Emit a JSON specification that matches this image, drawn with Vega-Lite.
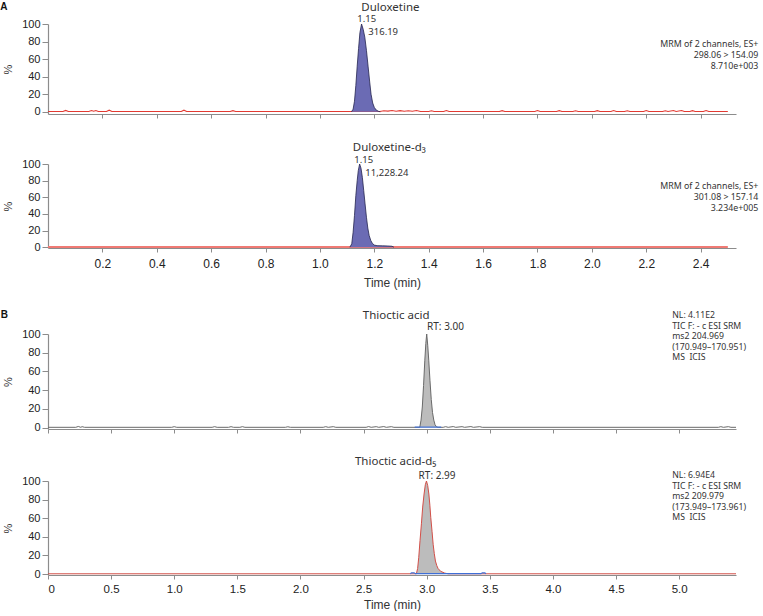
{
  "$schema": "https://vega.github.io/schema/vega-lite/v6.json",
  "padding": {"left": 0, "top": 1, "right": 0, "bottom": 0},
  "spacing": 22,
  "background": "white",
  "datasets": {
    "a1t": [
      {"t":0,"v":0.3},{"t":0.055,"v":0.3},{"t":0.065,"v":1.6},{"t":0.075,"v":0.3},{"t":0.15,"v":0.3},{"t":0.16,"v":1.4},{"t":0.168,"v":0.6},{"t":0.176,"v":1.4},{"t":0.185,"v":0.3},{"t":0.215,"v":0.3},{"t":0.225,"v":1.8},{"t":0.235,"v":0.3},{"t":0.49,"v":0.3},{"t":0.5,"v":1.8},{"t":0.51,"v":0.3},{"t":0.67,"v":0.3},{"t":0.68,"v":1.3},{"t":0.69,"v":0.3},{"t":1.22,"v":0.3},{"t":1.235,"v":1.2},{"t":1.25,"v":0.8},{"t":1.265,"v":1.4},{"t":1.28,"v":0.7},{"t":1.295,"v":1.3},{"t":1.31,"v":0.6},{"t":1.325,"v":1.2},{"t":1.34,"v":0.6},{"t":1.355,"v":1.4},{"t":1.37,"v":0.4},{"t":1.4,"v":0.3},{"t":1.41,"v":1.2},{"t":1.42,"v":0.3},{"t":1.455,"v":0.3},{"t":1.465,"v":1.4},{"t":1.475,"v":0.3},{"t":1.66,"v":0.3},{"t":1.67,"v":1.3},{"t":1.68,"v":0.3},{"t":1.79,"v":0.3},{"t":1.8,"v":1.5},{"t":1.81,"v":0.3},{"t":1.87,"v":0.3},{"t":1.88,"v":1.3},{"t":1.89,"v":0.3},{"t":1.93,"v":0.3},{"t":1.94,"v":1.2},{"t":1.95,"v":0.3},{"t":2.01,"v":0.3},{"t":2.02,"v":1.3},{"t":2.03,"v":0.3},{"t":2.07,"v":0.3},{"t":2.08,"v":1.4},{"t":2.09,"v":0.3},{"t":2.12,"v":0.3},{"t":2.13,"v":1.2},{"t":2.14,"v":0.3},{"t":2.19,"v":0.3},{"t":2.2,"v":1.5},{"t":2.21,"v":0.3},{"t":2.26,"v":0.3},{"t":2.27,"v":1.2},{"t":2.28,"v":0.3},{"t":2.3,"v":1.4},{"t":2.31,"v":0.3},{"t":2.33,"v":1.5},{"t":2.34,"v":0.3},{"t":2.36,"v":0.3},{"t":2.37,"v":1.3},{"t":2.38,"v":0.3},{"t":2.41,"v":0.3},{"t":2.42,"v":1.5},{"t":2.43,"v":0.3},{"t":2.5,"v":0.3}
    ],
    "a1p": [
      {"t":1.116,"v":0},{"t":1.122,"v":3},{"t":1.127,"v":12},{"t":1.132,"v":30},{"t":1.137,"v":52},{"t":1.142,"v":72},{"t":1.147,"v":90},{"t":1.153,"v":100},{"t":1.159,"v":94},{"t":1.165,"v":85},{"t":1.171,"v":70},{"t":1.177,"v":52},{"t":1.183,"v":34},{"t":1.188,"v":20},{"t":1.194,"v":10},{"t":1.2,"v":5},{"t":1.207,"v":2},{"t":1.215,"v":0.6},{"t":1.222,"v":0}
    ],
    "a2t": [
      {"t":0,"v":0.3},{"t":2.5,"v":0.3}
    ],
    "a2p": [
      {"t":1.11,"v":0},{"t":1.117,"v":4},{"t":1.122,"v":18},{"t":1.127,"v":38},{"t":1.132,"v":62},{"t":1.137,"v":80},{"t":1.141,"v":92},{"t":1.146,"v":100},{"t":1.151,"v":95},{"t":1.156,"v":84},{"t":1.161,"v":68},{"t":1.166,"v":52},{"t":1.171,"v":36},{"t":1.176,"v":23},{"t":1.181,"v":14},{"t":1.187,"v":8},{"t":1.193,"v":4.5},{"t":1.2,"v":2.5},{"t":1.21,"v":1.8},{"t":1.23,"v":1.6},{"t":1.25,"v":1.4},{"t":1.265,"v":1.1},{"t":1.272,"v":0}
    ],
    "b1t": [
      {"t":0,"v":0.3},{"t":0.22,"v":0.3},{"t":0.24,"v":1.2},{"t":0.26,"v":0.3},{"t":0.27,"v":1.0},{"t":0.29,"v":0.3},{"t":0.98,"v":0.3},{"t":1.0,"v":1.0},{"t":1.02,"v":0.3},{"t":1.3,"v":0.3},{"t":1.32,"v":1.0},{"t":1.34,"v":0.3},{"t":1.43,"v":0.3},{"t":1.45,"v":1.0},{"t":1.47,"v":0.3},{"t":1.52,"v":0.3},{"t":1.54,"v":1.0},{"t":1.56,"v":0.3},{"t":1.88,"v":0.3},{"t":1.9,"v":0.9},{"t":1.92,"v":0.3},{"t":2.18,"v":0.3},{"t":2.2,"v":1.0},{"t":2.22,"v":0.3},{"t":2.26,"v":1.0},{"t":2.28,"v":0.3},{"t":2.52,"v":0.3},{"t":2.54,"v":1.1},{"t":2.56,"v":0.3},{"t":2.6,"v":1.0},{"t":2.62,"v":0.3},{"t":2.66,"v":1.1},{"t":2.68,"v":0.3},{"t":2.72,"v":1.0},{"t":2.74,"v":0.3},
      {"t":2.945,"v":0.3},{"t":2.955,"v":8},{"t":2.965,"v":22},{"t":2.975,"v":45},{"t":2.985,"v":72},{"t":2.993,"v":90},{"t":3.0,"v":100},{"t":3.008,"v":88},{"t":3.016,"v":72},{"t":3.026,"v":50},{"t":3.036,"v":30},{"t":3.046,"v":16},{"t":3.056,"v":8},{"t":3.066,"v":3},{"t":3.078,"v":0.8},{"t":3.09,"v":0.3},
      {"t":3.13,"v":0.3},{"t":3.15,"v":1.0},{"t":3.17,"v":0.3},{"t":3.21,"v":1.1},{"t":3.23,"v":0.3},{"t":3.28,"v":1.0},{"t":3.3,"v":0.3},{"t":3.35,"v":1.1},{"t":3.37,"v":0.3},{"t":3.42,"v":1.0},{"t":3.44,"v":0.3},{"t":5.31,"v":0.3},{"t":5.33,"v":1.0},{"t":5.35,"v":0.3},{"t":5.39,"v":1.0},{"t":5.41,"v":0.3},{"t":5.45,"v":0.3}
    ],
    "b1p": [
      {"t":2.945,"v":0},{"t":2.955,"v":8},{"t":2.965,"v":22},{"t":2.975,"v":45},{"t":2.985,"v":72},{"t":2.993,"v":90},{"t":3.0,"v":100},{"t":3.008,"v":88},{"t":3.016,"v":72},{"t":3.026,"v":50},{"t":3.036,"v":30},{"t":3.046,"v":16},{"t":3.056,"v":8},{"t":3.066,"v":3},{"t":3.078,"v":0.8},{"t":3.09,"v":0}
    ],
    "b1b": [
      {"t":2.905,"v":0.5},{"t":3.115,"v":0.5}
    ],
    "b2t": [
      {"t":0,"v":0.3},{"t":2.918,"v":0.3},{"t":2.928,"v":6},{"t":2.937,"v":18},{"t":2.947,"v":36},{"t":2.958,"v":54},{"t":2.968,"v":72},{"t":2.979,"v":86},{"t":2.989,"v":96},{"t":2.998,"v":100},{"t":3.008,"v":95},{"t":3.017,"v":86},{"t":3.025,"v":74},{"t":3.032,"v":61},{"t":3.042,"v":46},{"t":3.051,"v":32},{"t":3.06,"v":22},{"t":3.069,"v":14},{"t":3.08,"v":9},{"t":3.09,"v":6},{"t":3.11,"v":3},{"t":3.143,"v":1},{"t":3.17,"v":0.3},{"t":5.45,"v":0.3}
    ],
    "b2p": [
      {"t":2.918,"v":0},{"t":2.928,"v":6},{"t":2.937,"v":18},{"t":2.947,"v":36},{"t":2.958,"v":54},{"t":2.968,"v":72},{"t":2.979,"v":86},{"t":2.989,"v":96},{"t":2.998,"v":100},{"t":3.008,"v":95},{"t":3.017,"v":86},{"t":3.025,"v":74},{"t":3.032,"v":61},{"t":3.042,"v":46},{"t":3.051,"v":32},{"t":3.06,"v":22},{"t":3.069,"v":14},{"t":3.08,"v":9},{"t":3.09,"v":6},{"t":3.11,"v":3},{"t":3.143,"v":1},{"t":3.17,"v":0}
    ],
    "b2b": [
      {"t":2.87,"v":0.4},{"t":2.88,"v":1.3},{"t":2.9,"v":1.3},{"t":2.91,"v":0.4},{"t":3.43,"v":0.4},{"t":3.44,"v":1.3},{"t":3.46,"v":1.3},{"t":3.47,"v":0.4}
    ],
    "labels": [
      {"p":"A1","k":"m","t":-0.176,"v":118.8,"label":"A"},
      {"p":"A1","k":"t","t":1.259,"v":115.2,"label":"Duloxetine"},
      {"p":"A1","k":"c","t":1.172,"v":105.3,"label":"1.15"},
      {"p":"A1","k":"l","t":1.178,"v":91,"label":"316.19"},
      {"p":"A1","k":"r","t":2.612,"v":74.2,"label":"MRM of 2 channels, ES+\n298.06 > 154.09\n8.710e+003"},
      {"p":"A2","k":"t","t":1.255,"v":116.2,"label":"Duloxetine-d₃"},
      {"p":"A2","k":"c","t":1.161,"v":105.4,"label":"1.15"},
      {"p":"A2","k":"l","t":1.167,"v":89.2,"label":"11,228.24"},
      {"p":"A2","k":"r","t":2.612,"v":69.5,"label":"MRM of 2 channels, ES+\n301.08 > 157.14\n3.234e+005"},
      {"p":"B1","k":"m","t":-0.375,"v":120,"label":"B"},
      {"p":"B1","k":"t","t":2.758,"v":116,"label":"Thioctic acid"},
      {"p":"B1","k":"l","t":3.003,"v":107,"label":"RT: 3.00"},
      {"p":"B1","k":"n","t":4.945,"v":117,"label":"NL: 4.11E2\nTIC F: - c ESI SRM\nms2 204.969\n(170.949–170.951)\nMS \u00a0ICIS"},
      {"p":"B2","k":"t","t":2.754,"v":117,"label":"Thioctic acid-d₅"},
      {"p":"B2","k":"c","t":3.082,"v":105.9,"label":"RT: 2.99"},
      {"p":"B2","k":"n","t":4.945,"v":103.2,"label":"NL: 6.94E4\nTIC F: - c ESI SRM\nms2 209.979\n(173.949–173.961)\nMS \u00a0ICIS"}
    ]
  },
  "vconcat": [
    {
      "width": 688, "height": 90,
      "encoding": {
        "x": {"field": "t", "type": "quantitative", "scale": {"domain": [0, 2.53], "nice": false, "zero": false},
              "axis": {"values": [0.2,0.4,0.6,0.8,1.0,1.2,1.4,1.6,1.8,2.0,2.2,2.4], "labels": false, "title": null, "tickSize": 4}},
        "y": {"field": "v", "type": "quantitative", "scale": {"domain": [-2.5, 100], "nice": false, "zero": false},
              "axis": {"values": [0,20,40,60,80,100], "title": "%", "tickSize": 6, "labelPadding": 2, "titlePadding": 8}}
      },
      "layer": [
        {"data": {"name": "a1t"}, "mark": {"type": "line", "color": "#e23a32", "strokeWidth": 1.1}},
        {"data": {"name": "a1p"}, "mark": {"type": "area", "color": "#6b6bb4", "opacity": 1, "line": {"color": "#25254f", "strokeWidth": 0.8}}, "encoding": {"y2": {"datum": 0}}},
        {"data": {"name": "labels"}, "transform": [{"filter": "datum.p == 'A1' && datum.k == 't'"}], "mark": {"type": "text", "align": "center", "baseline": "alphabetic", "fontSize": 11.5}, "encoding": {"text": {"field": "label"}}},
        {"data": {"name": "labels"}, "transform": [{"filter": "datum.p == 'A1' && datum.k == 'c'"}], "mark": {"type": "text", "align": "center", "baseline": "middle", "fontSize": 9.5}, "encoding": {"text": {"field": "label"}}},
        {"data": {"name": "labels"}, "transform": [{"filter": "datum.p == 'A1' && datum.k == 'l'"}], "mark": {"type": "text", "align": "left", "baseline": "middle", "fontSize": 9.5}, "encoding": {"text": {"field": "label"}}},
        {"data": {"name": "labels"}, "transform": [{"filter": "datum.p == 'A1' && datum.k == 'r'"}], "mark": {"type": "text", "align": "right", "baseline": "alphabetic", "fontSize": 8.8, "lineHeight": 11, "lineBreak": "\n"}, "encoding": {"text": {"field": "label"}}},
        {"data": {"name": "labels"}, "transform": [{"filter": "datum.p == 'A1' && datum.k == 'm'"}], "mark": {"type": "text", "align": "left", "baseline": "middle", "fontSize": 10, "fontWeight": "bold", "font": "Liberation Sans", "color": "#111"}, "encoding": {"text": {"field": "label"}}}
      ]
    },
    {
      "width": 688, "height": 84,
      "encoding": {
        "x": {"field": "t", "type": "quantitative", "scale": {"domain": [0, 2.53], "nice": false, "zero": false},
              "axis": {"values": [0.2,0.4,0.6,0.8,1.0,1.2,1.4,1.6,1.8,2.0,2.2,2.4], "format": ".1f", "title": "Time (min)", "tickSize": 4, "labelPadding": 6, "titlePadding": 8,
                       "labelFontSize": 12, "titleFontSize": 12}},
        "y": {"field": "v", "type": "quantitative", "scale": {"domain": [-1, 100], "nice": false, "zero": false},
              "axis": {"values": [0,20,40,60,80,100], "title": "%", "tickSize": 6, "labelPadding": 2, "titlePadding": 8}}
      },
      "layer": [
        {"data": {"name": "a2t"}, "mark": {"type": "line", "color": "#f07a74", "strokeWidth": 2}},
        {"data": {"name": "a2p"}, "mark": {"type": "area", "color": "#6b6bb4", "opacity": 1, "line": {"color": "#25254f", "strokeWidth": 0.8}}, "encoding": {"y2": {"datum": 0}}},
        {"data": {"name": "labels"}, "transform": [{"filter": "datum.p == 'A2' && datum.k == 't'"}], "mark": {"type": "text", "align": "center", "baseline": "alphabetic", "fontSize": 11.5}, "encoding": {"text": {"field": "label"}}},
        {"data": {"name": "labels"}, "transform": [{"filter": "datum.p == 'A2' && datum.k == 'c'"}], "mark": {"type": "text", "align": "center", "baseline": "middle", "fontSize": 9.5}, "encoding": {"text": {"field": "label"}}},
        {"data": {"name": "labels"}, "transform": [{"filter": "datum.p == 'A2' && datum.k == 'l'"}], "mark": {"type": "text", "align": "left", "baseline": "middle", "fontSize": 9.5}, "encoding": {"text": {"field": "label"}}},
        {"data": {"name": "labels"}, "transform": [{"filter": "datum.p == 'A2' && datum.k == 'r'"}], "mark": {"type": "text", "align": "right", "baseline": "alphabetic", "fontSize": 8.8, "lineHeight": 10.6, "lineBreak": "\n"}, "encoding": {"text": {"field": "label"}}}
      ]
    },
    {
      "width": 688, "height": 95,
      "encoding": {
        "x": {"field": "t", "type": "quantitative", "scale": {"domain": [0, 5.45], "nice": false, "zero": false},
              "axis": {"values": [0,0.5,1,1.5,2,2.5,3,3.5,4,4.5,5], "labels": false, "title": null, "tickSize": 4}},
        "y": {"field": "v", "type": "quantitative", "scale": {"domain": [-1.5, 100], "nice": false, "zero": false},
              "axis": {"values": [0,20,40,60,80,100], "title": "%", "tickSize": 6, "labelPadding": 2, "titlePadding": 8}}
      },
      "layer": [
        {"data": {"name": "b1p"}, "mark": {"type": "area", "color": "#bcbcbc", "opacity": 1}, "encoding": {"y2": {"datum": 0}}},
        {"data": {"name": "b1t"}, "mark": {"type": "line", "color": "#6a6a6a", "strokeWidth": 1}},
        {"data": {"name": "b1b"}, "mark": {"type": "line", "color": "#3f6fd6", "strokeWidth": 1.2}},
        {"data": {"name": "labels"}, "transform": [{"filter": "datum.p == 'B1' && datum.k == 't'"}], "mark": {"type": "text", "align": "center", "baseline": "alphabetic", "fontSize": 11.5}, "encoding": {"text": {"field": "label"}}},
        {"data": {"name": "labels"}, "transform": [{"filter": "datum.p == 'B1' && datum.k == 'l'"}], "mark": {"type": "text", "align": "left", "baseline": "middle", "fontSize": 10}, "encoding": {"text": {"field": "label"}}},
        {"data": {"name": "labels"}, "transform": [{"filter": "datum.p == 'B1' && datum.k == 'n'"}], "mark": {"type": "text", "align": "left", "baseline": "alphabetic", "fontSize": 8.7, "lineHeight": 10.6, "lineBreak": "\n"}, "encoding": {"text": {"field": "label"}}},
        {"data": {"name": "labels"}, "transform": [{"filter": "datum.p == 'B1' && datum.k == 'm'"}], "mark": {"type": "text", "align": "left", "baseline": "middle", "fontSize": 10, "fontWeight": "bold", "font": "Liberation Sans", "color": "#111"}, "encoding": {"text": {"field": "label"}}}
      ]
    },
    {
      "width": 688, "height": 94,
      "encoding": {
        "x": {"field": "t", "type": "quantitative", "scale": {"domain": [0, 5.45], "nice": false, "zero": false},
              "axis": {"values": [0,0.5,1,1.5,2,2.5,3,3.5,4,4.5,5], "labelExpr": "datum.value == 0 ? '0' : format(datum.value, '.1f')", "title": "Time (min)", "tickSize": 4, "labelPadding": 4, "titlePadding": 5, "labelFontSize": 11.5, "titleFontSize": 12}},
        "y": {"field": "v", "type": "quantitative", "scale": {"domain": [-1, 100], "nice": false, "zero": false},
              "axis": {"values": [0,20,40,60,80,100], "title": "%", "tickSize": 6, "labelPadding": 2, "titlePadding": 8}}
      },
      "layer": [
        {"data": {"name": "b2p"}, "mark": {"type": "area", "color": "#bcbcbc", "opacity": 1}, "encoding": {"y2": {"datum": 0}}},
        {"data": {"name": "b2t"}, "mark": {"type": "line", "color": "#d24f48", "strokeWidth": 1}},
        {"data": {"name": "b2b"}, "mark": {"type": "line", "color": "#3f6fd6", "strokeWidth": 1.2}},
        {"data": {"name": "labels"}, "transform": [{"filter": "datum.p == 'B2' && datum.k == 't'"}], "mark": {"type": "text", "align": "center", "baseline": "alphabetic", "fontSize": 11.5}, "encoding": {"text": {"field": "label"}}},
        {"data": {"name": "labels"}, "transform": [{"filter": "datum.p == 'B2' && datum.k == 'c'"}], "mark": {"type": "text", "align": "center", "baseline": "middle", "fontSize": 10}, "encoding": {"text": {"field": "label"}}},
        {"data": {"name": "labels"}, "transform": [{"filter": "datum.p == 'B2' && datum.k == 'n'"}], "mark": {"type": "text", "align": "left", "baseline": "alphabetic", "fontSize": 8.7, "lineHeight": 10.6, "lineBreak": "\n"}, "encoding": {"text": {"field": "label"}}}
      ]
    }
  ],
  "config": {
    "view": {"stroke": null},
    "axis": {"grid": false, "domainColor": "#8c8c8c", "tickColor": "#8c8c8c", "domainWidth": 1.2, "labelColor": "#222", "titleColor": "#333", "labelFont": "Liberation Sans", "titleFont": "Liberation Sans", "labelFontSize": 11, "titleFontSize": 11, "titleFontWeight": "normal"},
    "text": {"font": "Noto Sans", "color": "#333"}
  }
}
